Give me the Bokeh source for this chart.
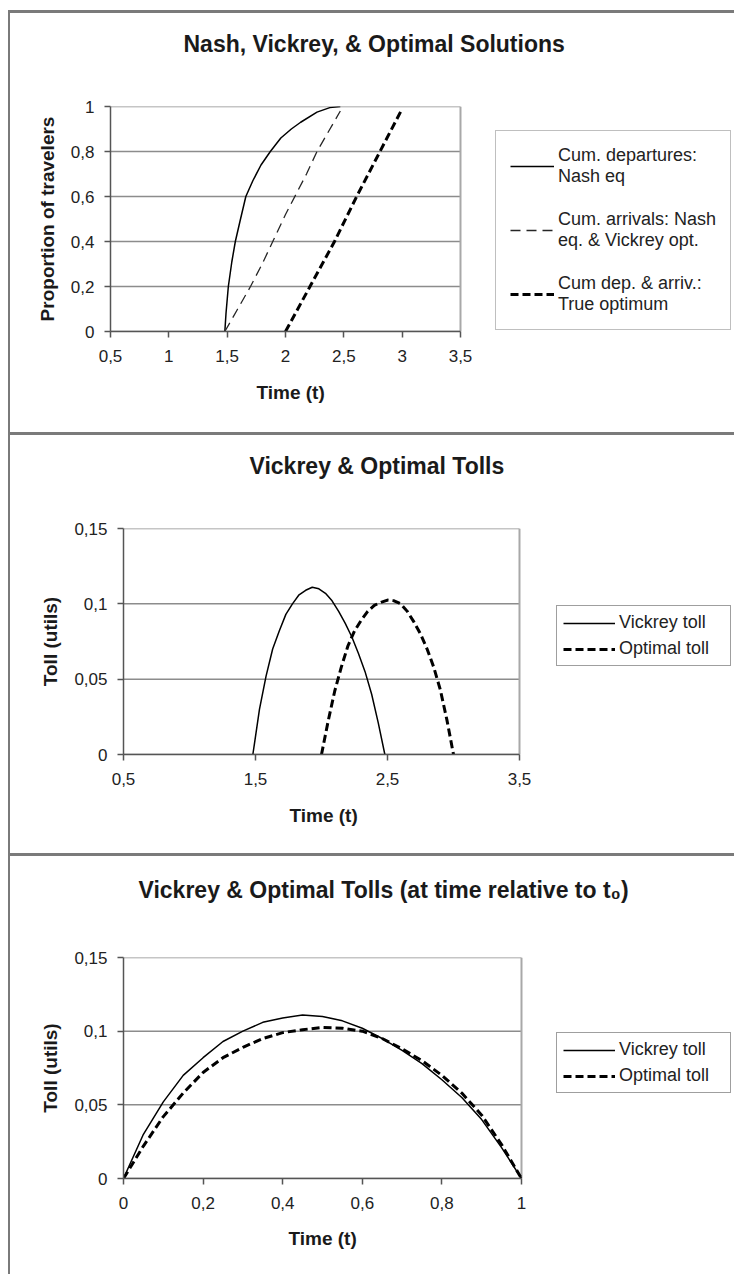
from bokeh.plotting import figure
from bokeh.models import Range1d, FixedTicker, Legend, LegendItem, Title
from bokeh.embed import file_html
from bokeh.resources import INLINE

# ---------------- data ----------------
# Panel 1: Nash, Vickrey & optimal cumulative curves
dep_time = [1.48, 1.49, 1.51, 1.54, 1.57, 1.61, 1.66, 1.72, 1.79, 1.87, 1.96, 2.05, 2.13, 2.27, 2.38, 2.47]
dep_prop = [0.00, 0.08, 0.20, 0.31, 0.40, 0.49, 0.60, 0.67, 0.74, 0.80, 0.86, 0.90, 0.93, 0.975, 0.995, 1.00]
arr_time = [1.48, 1.59, 1.70, 1.80, 1.90, 2.00, 2.09, 2.18, 2.27, 2.37, 2.47]
arr_prop = [0.00, 0.10, 0.20, 0.30, 0.41, 0.52, 0.61, 0.70, 0.80, 0.89, 0.98]
opt_time = [2.00, 2.21, 2.42, 2.61, 2.81, 2.99]
opt_prop = [0.00, 0.20, 0.40, 0.60, 0.80, 0.98]

# Panel 2: tolls against absolute time
vick_time = [1.48, 1.53, 1.58, 1.63, 1.68, 1.73, 1.78, 1.83, 1.88, 1.93, 1.98,
             2.03, 2.08, 2.13, 2.18, 2.23, 2.28, 2.33, 2.38, 2.43, 2.48]
optt_time = [2.00, 2.05, 2.10, 2.15, 2.20, 2.25, 2.30, 2.35, 2.40, 2.45, 2.50,
             2.55, 2.60, 2.65, 2.70, 2.75, 2.80, 2.85, 2.90, 2.95, 3.00]

# Panel 3: tolls against time relative to t0
rel_time = [0.00, 0.05, 0.10, 0.15, 0.20, 0.25, 0.30, 0.35, 0.40, 0.45, 0.50,
            0.55, 0.60, 0.65, 0.70, 0.75, 0.80, 0.85, 0.90, 0.95, 1.00]
vickrey_toll = [0.000, 0.030, 0.052, 0.070, 0.082, 0.093, 0.100, 0.106, 0.109, 0.111, 0.110,
                0.107, 0.102, 0.095, 0.087, 0.078, 0.067, 0.055, 0.040, 0.021, 0.000]
optimal_toll = [0.000, 0.022, 0.042, 0.058, 0.072, 0.082, 0.089, 0.095, 0.099, 0.101, 0.1025,
                0.102, 0.100, 0.095, 0.088, 0.080, 0.070, 0.058, 0.043, 0.023, 0.000]

p1_xticks = [0.5, 1, 1.5, 2, 2.5, 3, 3.5]
p1_xlabels = ["0,5", "1", "1,5", "2", "2,5", "3", "3,5"]
p1_yticks = [0, 0.2, 0.4, 0.6, 0.8, 1]
p1_ylabels = ["0", "0,2", "0,4", "0,6", "0,8", "1"]
p2_xticks = [0.5, 1.5, 2.5, 3.5]
p2_xlabels = ["0,5", "1,5", "2,5", "3,5"]
toll_yticks = [0, 0.05, 0.1, 0.15]
toll_ylabels = ["0", "0,05", "0,1", "0,15"]
p3_xticks = [0, 0.2, 0.4, 0.6, 0.8, 1]
p3_xlabels = ["0", "0,2", "0,4", "0,6", "0,8", "1"]

titles = ["Nash, Vickrey, & Optimal Solutions",
          "Vickrey & Optimal Tolls",
          "Vickrey & Optimal Tolls (at time relative to t\u2080)"]
x_title = "Time (t)"

# ---------------- styling ----------------
FONT = "Liberation Sans"
BORDER = "#7a7a7a"
W = 734


def panel_background(top, thick):
    g = f"linear-gradient({BORDER},{BORDER})"
    return (f"{g} 8px {top}px / 2px calc(100% - {top}px) no-repeat, "
            f"{g} 8px {top}px / calc(100% - 8px) {thick}px no-repeat, #ffffff")


def make_fig(h, fl, ft, fh, xr, yr, xbounds, xticks, xlabels, yticks, ylabels,
             ylabel, title, title_offset, title_gap, xlab_offset, xlab_standoff,
             line_top, line_thick):
    """Frame spans from fl to the right edge of the canvas; the plotted area
    is limited to xbounds, the rest of the frame holds the legend."""
    p = figure(width=W, height=h, x_range=Range1d(*xr), y_range=Range1d(*yr),
               output_backend="svg", toolbar_location=None, title=None,
               min_border_left=fl, min_border_right=0,
               min_border_top=ft, min_border_bottom=h - ft - fh)
    p.styles = {"background": panel_background(line_top, line_thick)}
    p.background_fill_color = "white"
    p.border_fill_color = None
    p.outline_line_color = None
    for ax, ticks, labels in ((p.xaxis, xticks, xlabels), (p.yaxis, yticks, ylabels)):
        ax.ticker = FixedTicker(ticks=ticks)
        ax.major_label_overrides = dict(zip(ticks, labels))
        ax.minor_tick_line_color = None
        ax.major_tick_in = 0
        ax.major_tick_out = 6
        ax.major_tick_line_color = "#555555"
        ax.major_tick_line_width = 1.5
        ax.axis_line_color = "#555555"
        ax.axis_line_width = 1.5
        ax.major_label_text_font = FONT
        ax.major_label_text_font_size = "17px"
        ax.major_label_text_color = "#222222"
        ax.axis_label_text_font = FONT
        ax.axis_label_text_font_size = "19px"
        ax.axis_label_text_font_style = "bold"
        ax.axis_label_text_color = "#1a1a1a"
    p.xaxis.bounds = xbounds
    p.xaxis.major_label_standoff = 12
    p.yaxis.major_label_standoff = 10
    p.yaxis.axis_label = ylabel
    p.yaxis.axis_label_standoff = 10
    p.grid.visible = False

    # horizontal grid lines and right edge of the plot area, limited to xbounds
    n = len(yticks)
    p.segment(x0=[xbounds[0]] * n, y0=yticks, x1=[xbounds[1]] * n, y1=yticks,
              line_color="#8c8c8c", line_width=1.5)
    p.segment(x0=[xbounds[1]], y0=[yr[0]], x1=[xbounds[1]], y1=[yr[1]],
              line_color="#a8a8a8", line_width=2)

    # x axis title, placed under the tick labels
    p.add_layout(Title(text=x_title, align="left", offset=xlab_offset, vertical_align="top",
                       standoff=xlab_standoff, text_font=FONT, text_font_size="19px",
                       text_font_style="bold", text_color="#1a1a1a"), "below")

    # blank spacer panel next to the frame, then the chart title above it
    spacer = Title(text=" ", text_font=FONT, text_font_size="10px",
                   standoff=title_gap - 14, text_color="white")
    p.add_layout(spacer, "above")
    p.add_layout(Title(text=title, align="left", offset=title_offset, vertical_align="bottom",
                       standoff=0, text_font=FONT, text_font_size="23px",
                       text_font_style="bold", text_color="#1a1a1a"), "above")
    return p


def style_legend(lg, border="#808080"):
    lg.border_line_color = border
    lg.border_line_width = 1.5
    lg.background_fill_color = "white"
    lg.background_fill_alpha = 1
    lg.label_text_font = FONT
    lg.label_text_font_size = "18px"
    lg.label_text_color = "#222222"
    lg.margin = 0


# ---- Panel 1 ----  page y 0..432 ; plot area x 110..460 (0.5..3.5), y 106..331
p1 = make_fig(432, 110, 106, 225, (0.5, 5.8486), (0, 1), (0.5, 3.5),
              p1_xticks, p1_xlabels, p1_yticks, p1_ylabels, "Proportion of travelers",
              titles[0], 73, 51, 146, 34, 10, 3)
r_dep = p1.line(dep_time, dep_prop, line_color="black", line_width=1.5)
r_arr = p1.line(arr_time, arr_prop, line_color="#262626", line_width=1.3, line_dash="10 6")
r_opt = p1.line(opt_time, opt_prop, line_color="black", line_width=3, line_dash="8 4")
lg1 = Legend(items=[LegendItem(label="Cum. departures:\nNash eq", renderers=[r_dep]),
                    LegendItem(label="Cum. arrivals: Nash\neq. & Vickrey opt.", renderers=[r_arr]),
                    LegendItem(label="Cum dep. & arriv.:\nTrue optimum", renderers=[r_opt])],
             location=(385, 1))
style_legend(lg1)
lg1.glyph_width = 44
lg1.glyph_height = 20
lg1.label_standoff = 4
lg1.label_width = 150
lg1.padding = 14
lg1.spacing = 22
p1.add_layout(lg1)

# ---- Panel 2 ----  page y 432..853 ; plot area x 123..519 (0.5..3.5), y 528..754
p2 = make_fig(421, 123, 96, 226, (0.5, 5.1288), (0, 0.15), (0.5, 3.5),
              p2_xticks, p2_xlabels, toll_yticks, toll_ylabels, "Toll (utils)",
              titles[1], 126, 51, 166, 35, 0, 3)
r_v2 = p2.line(vick_time, vickrey_toll, line_color="black", line_width=1.5)
r_o2 = p2.line(optt_time, optimal_toll, line_color="black", line_width=3, line_dash="8 4")
lg2 = Legend(items=[LegendItem(label="Vickrey toll", renderers=[r_v2]),
                    LegendItem(label="Optimal toll", renderers=[r_o2])],
             location=(433, 88))
style_legend(lg2, "#404040")
lg2.glyph_width = 52
lg2.glyph_height = 20
lg2.label_height = 20
lg2.label_standoff = 4
lg2.label_width = 105
lg2.padding = 6
lg2.spacing = 5
p2.add_layout(lg2)

# ---- Panel 3 ----  page y 853..1274 ; plot area x 123..521 (0..1), y 957..1178
p3 = make_fig(421, 123, 104, 221, (0, 1.5352), (0, 0.15), (0, 1),
              p3_xticks, p3_xlabels, toll_yticks, toll_ylabels, "Toll (utils)",
              titles[2], 15, 56, 165, 33, 0, 3)
r_v3 = p3.line(rel_time, vickrey_toll, line_color="black", line_width=1.5)
r_o3 = p3.line(rel_time, optimal_toll, line_color="black", line_width=3, line_dash="8 4")
lg3 = Legend(items=[LegendItem(label="Vickrey toll", renderers=[r_v3]),
                    LegendItem(label="Optimal toll", renderers=[r_o3])],
             location=(433, 85))
style_legend(lg3, "#404040")
lg3.glyph_width = 52
lg3.glyph_height = 20
lg3.label_height = 20
lg3.label_standoff = 4
lg3.label_width = 105
lg3.padding = 6
lg3.spacing = 5
p3.add_layout(lg3)

# three independent roots, so that their frames are not aligned to each other
open("out.html", "w").write(file_html([p1, p2, p3], INLINE))
